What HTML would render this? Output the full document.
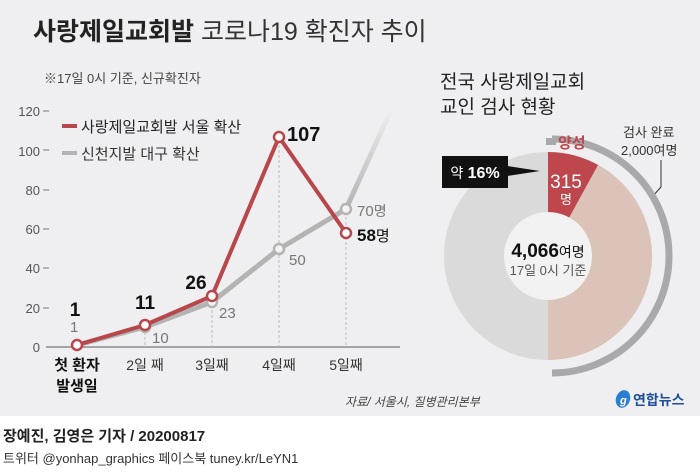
<!DOCTYPE html>
<html><head><meta charset="utf-8"><style>
html,body{margin:0;padding:0;}
body{width:700px;height:470px;overflow:hidden;background:#fff;font-family:"Liberation Sans","Noto Sans CJK KR",sans-serif;}
</style></head><body>
<svg width="700" height="470" viewBox="0 0 700 470" xmlns="http://www.w3.org/2000/svg" font-family="Liberation Sans, Noto Sans CJK KR, sans-serif">
<rect x="0" y="0" width="700" height="416" fill="#efeff1"/>
<rect x="0" y="416" width="700" height="54" fill="#ffffff"/>
<text x="33" y="40" font-size="25" font-weight="bold" fill="#222">사랑제일교회발 <tspan font-weight="normal" fill="#333">코로나19 확진자 추이</tspan></text>
<text x="44" y="83" font-size="13" fill="#444">※17일 0시 기준, 신규확진자</text>
<!-- y axis -->
<g font-size="13" fill="#555" text-anchor="end">
<text x="40" y="352">0</text><text x="40" y="313">20</text><text x="40" y="273">40</text>
<text x="40" y="234">60</text><text x="40" y="195">80</text><text x="40" y="156">100</text><text x="40" y="116">120</text>
</g>
<g stroke="#777" stroke-width="1">
<line x1="43" y1="111" x2="49" y2="111"/><line x1="43" y1="150" x2="49" y2="150"/><line x1="43" y1="190" x2="49" y2="190"/>
<line x1="43" y1="229" x2="49" y2="229"/><line x1="43" y1="268" x2="49" y2="268"/><line x1="43" y1="308" x2="49" y2="308"/>
</g>
<line x1="46" y1="347" x2="400" y2="347" stroke="#777" stroke-width="1.3"/>
<!-- guides -->
<g stroke="#bbb" stroke-width="1" stroke-dasharray="3,2">
<line x1="145" y1="327" x2="145" y2="347"/><line x1="212" y1="300" x2="212" y2="347"/>
<line x1="279" y1="140" x2="279" y2="347"/><line x1="346" y1="212" x2="346" y2="347"/>
</g>
<defs><linearGradient id="fade" x1="0" y1="1" x2="0" y2="0"><stop offset="0" stop-color="#b3b3b3"/><stop offset="1" stop-color="#b3b3b3" stop-opacity="0"/></linearGradient></defs>
<polyline points="77,345 145,327 212,302 279,249 346,209" fill="none" stroke="#b3b3b3" stroke-width="5" stroke-linejoin="round"/>
<path d="M346,209 L392,108" stroke="url(#fade)" stroke-width="5" fill="none"/>
<g fill="#f3f3f4" stroke="#b3b3b3" stroke-width="2.5">
<circle cx="145" cy="327" r="5"/><circle cx="212" cy="302" r="5"/><circle cx="279" cy="249" r="5"/><circle cx="346" cy="209" r="5"/>
</g>
<polyline points="77,345 145,325 212,296 279,137 346,233" fill="none" stroke="#b8474c" stroke-width="4" stroke-linejoin="round"/>
<g fill="#fff" stroke="#b8474c" stroke-width="2.5">
<circle cx="77" cy="345" r="5"/><circle cx="145" cy="325" r="5"/><circle cx="212" cy="296" r="5"/><circle cx="279" cy="137" r="5"/><circle cx="346" cy="233" r="5"/>
</g>
<!-- legend -->
<line x1="62" y1="126" x2="77" y2="126" stroke="#b8474c" stroke-width="4"/>
<text x="81" y="132" font-size="15" fill="#222">사랑제일교회발 서울 확산</text>
<line x1="62" y1="153" x2="77" y2="153" stroke="#b3b3b3" stroke-width="4"/>
<text x="81" y="159" font-size="15" fill="#333">신천지발 대구 확산</text>
<!-- labels -->
<g font-size="19" font-weight="bold" fill="#111" text-anchor="middle">
<text x="75" y="316">1</text><text x="145" y="309">11</text><text x="196" y="289">26</text>
</g>
<text x="287" y="141" font-size="20" font-weight="bold" fill="#111">107</text>
<text x="357" y="241" font-size="17" font-weight="bold" fill="#111">58<tspan font-size="15" font-weight="normal">명</tspan></text>
<g font-size="15" fill="#777">
<text x="70" y="332">1</text><text x="152" y="343">10</text><text x="219" y="318">23</text><text x="289" y="265">50</text>
<text x="357" y="216">70<tspan font-size="14">명</tspan></text>
</g>
<!-- x labels -->
<text x="77" y="370" font-size="15" font-weight="bold" fill="#111" text-anchor="middle">첫 환자</text>
<text x="77" y="391" font-size="15" font-weight="bold" fill="#111" text-anchor="middle">발생일</text>
<g font-size="14" fill="#333" text-anchor="middle">
<text x="145" y="370">2일 째</text><text x="212" y="370">3일째</text><text x="279" y="370">4일째</text><text x="346" y="370">5일째</text>
</g>
<text x="345" y="406" font-size="12" fill="#444" font-style="italic">자료/ 서울시, 질병관리본부</text>
<!-- donut section -->
<text x="440" y="88" font-size="19" fill="#222">전국 사랑제일교회</text>
<text x="440" y="113" font-size="19" fill="#222">교인 검사 현황</text>
<text x="623" y="137" font-size="13" fill="#333">검사 완료</text>
<text x="621" y="155" font-size="13" fill="#333">2,000여명</text>
<polyline points="661,160 661,187 652,197" fill="none" stroke="#333" stroke-width="1"/>
<path d="M548,152 A104,104 0 0 0 548,360 Z" fill="#dadadb"/>
<path d="M548,152 A104,104 0 0 1 548,360 Z" fill="#dcc3b9"/>
<path d="M548,256 L548,152 A104,104 0 0 1 598,165 Z" fill="#bd474c"/>
<circle cx="548" cy="256" r="44" fill="#f2f2f2"/>
<path d="M552,139 A117,117 0 0 1 552,373" fill="none" stroke="#a9a9ab" stroke-width="7"/>
<rect x="546" y="138" width="10" height="7" fill="#a9a9ab"/>
<text x="558" y="148" font-size="15" font-weight="bold" fill="#bd474c">양성</text>
<text x="566" y="188" font-size="19" fill="#fff" text-anchor="middle">315</text>
<text x="566" y="204" font-size="13" fill="#fff" text-anchor="middle">명</text>
<rect x="442" y="156" width="66" height="32" fill="#111"/>
<polygon points="507,166 540,171 507,176" fill="#111"/>
<text x="475" y="178" font-size="16" font-weight="bold" fill="#fff" text-anchor="middle"><tspan font-weight="normal" font-size="14">약</tspan> 16%</text>
<text x="548" y="257" font-size="19" fill="#111" text-anchor="middle" font-weight="bold">4,066<tspan font-size="14" font-weight="normal">여명</tspan></text>
<text x="548" y="275" font-size="13" fill="#555" text-anchor="middle">17일 0시 기준</text>
<!-- logo -->
<ellipse cx="623" cy="399" rx="7" ry="9" fill="#2a7fd0" transform="rotate(20 623 399)"/>
<text x="620" y="404" font-size="11" font-style="italic" font-weight="bold" fill="#fff">g</text>
<text x="633" y="405" font-size="14" font-weight="bold" fill="#1f4f9c">연합뉴스</text>
<!-- footer -->
<text x="3" y="441" font-size="15" font-weight="bold" fill="#222">장예진, 김영은 기자 / 20200817</text>
<text x="3" y="463" font-size="13" fill="#333">트위터 @yonhap_graphics  페이스북 tuney.kr/LeYN1</text>
</svg>
</body></html>
